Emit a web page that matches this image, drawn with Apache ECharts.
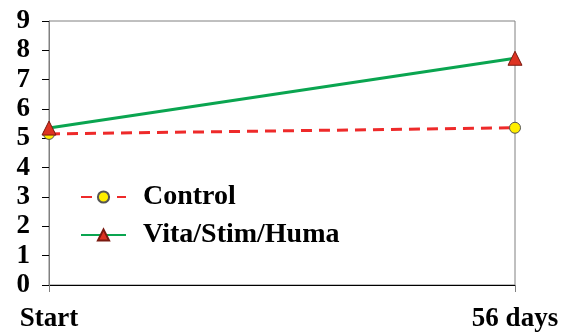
<!DOCTYPE html>
<html>
<head>
<meta charset="utf-8">
<script src="https://cdn.jsdelivr.net/npm/echarts@6/dist/echarts.min.js"></script>
<style>
  html, body { margin: 0; padding: 0; background: #fff; }
  #chart { width: 574px; height: 333px; }
</style>
</head>
<body>
<div id="chart"></div>
<script>
const categories = ['Start', '56 days']
const controlValues = [5.15, 5.36]
const vitaValues = [5.35, 7.73]
const yTicks = [0, 1, 2, 3, 4, 5, 6, 7, 8, 9]

const chart = echarts.init(document.getElementById('chart'))

const font = '"Liberation Serif", "Times New Roman", serif'

const option = {
  animation: false,
  grid: {
    left: 49,
    right: 59,
    top: 21,
    bottom: 48,
    show: true,
    borderColor: '#808080',
    borderWidth: 1
  },
  legend: {
    left: 75,
    top: 178,
    orient: 'vertical',
    itemGap: 10,
    itemWidth: 45,
    itemHeight: 14,
    textStyle: {
      fontFamily: font,
      fontWeight: 'bold',
      fontSize: 28,
      lineHeight: 28,
      color: '#000',
      padding: [0, 0, 0, 12]
    },
    data: ['Control', 'Vita/Stim/Huma']
  },
  xAxis: {
    type: 'category',
    data: categories,
    boundaryGap: false,
    axisLine: { lineStyle: { color: '#000', width: 1 } },
    axisTick: { show: true, length: 7, alignWithLabel: true, lineStyle: { color: '#808080' } },
    axisLabel: {
      fontFamily: font,
      fontWeight: 'bold',
      fontSize: 27,
      color: '#000',
      margin: 21
    }
  },
  yAxis: {
    type: 'value',
    min: yTicks[0],
    max: yTicks[yTicks.length - 1],
    interval: 1,
    splitLine: { show: false },
    axisLine: { show: true, lineStyle: { color: '#808080', width: 1 } },
    axisTick: { show: true, length: 7, lineStyle: { color: '#000' } },
    axisLabel: {
      fontFamily: font,
      fontWeight: 'bold',
      fontSize: 27,
      color: '#000',
      margin: 19
    }
  },
  series: [
    {
      name: 'Control',
      type: 'line',
      data: controlValues,
      symbol: 'circle',
      symbolSize: 11,
      lineStyle: { color: '#ee2a2a', width: 3, type: [11, 7] },
      itemStyle: { color: '#ffee00', borderColor: '#555', borderWidth: 1 },
      z: 2
    },
    {
      name: 'Vita/Stim/Huma',
      type: 'line',
      data: vitaValues,
      symbol: 'triangle',
      symbolSize: 14,
      lineStyle: { color: '#0aa550', width: 3 },
      itemStyle: { color: '#dd3322', borderColor: '#7a1a10', borderWidth: 1 },
      z: 3
    }
  ]
}

chart.setOption(option)
</script>
</body>
</html>
